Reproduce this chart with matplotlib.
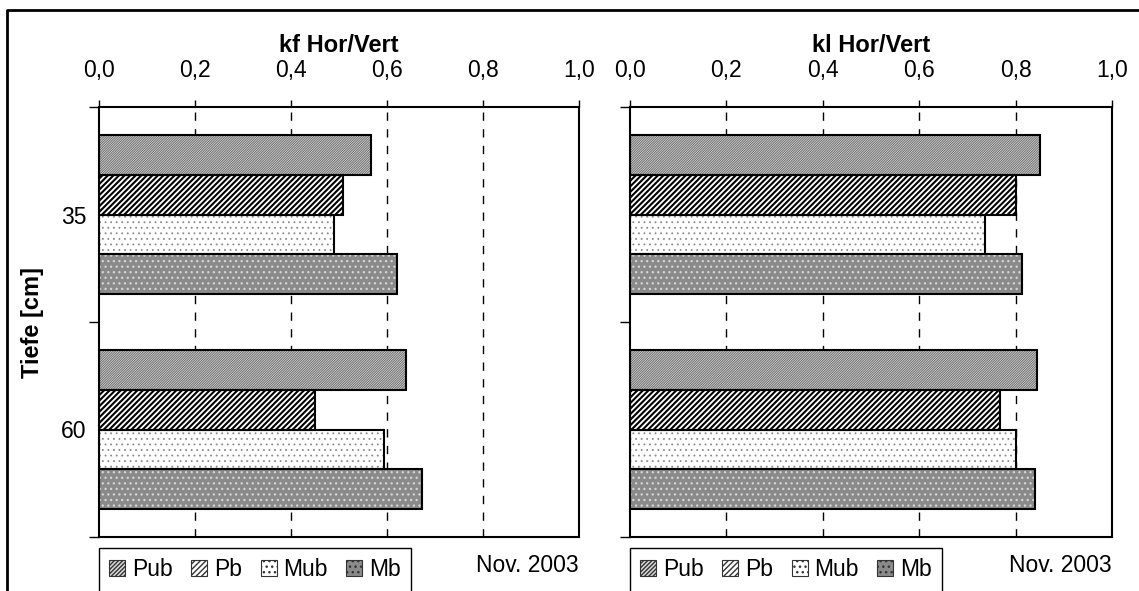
import numpy as np
import matplotlib
matplotlib.use("Agg")
import matplotlib.pyplot as plt
from matplotlib.patches import Patch
from matplotlib.lines import Line2D

plt.rcParams['font.family'] = ['Liberation Sans', 'DejaVu Sans']

depths = ["35", "60"]
series = ["Pub", "Pb", "Mub", "Mb"]
kf_ratio = {
    "Pub": [0.567, 0.640],
    "Pb": [0.508, 0.450],
    "Mub": [0.490, 0.594],
    "Mb": [0.621, 0.673],
}
kl_ratio = {
    "Pub": [0.850, 0.845],
    "Pb": [0.800, 0.768],
    "Mub": [0.737, 0.800],
    "Mb": [0.813, 0.840],
}
x_ticks = [0.0, 0.2, 0.4, 0.6, 0.8, 1.0]
x_ticklabels = ["0,0", "0,2", "0,4", "0,6", "0,8", "1,0"]
note = "Nov. 2003"

# fill, hatch, hatch colour, hatch line width
styles = {
    "Pub": ("#d9d9d9", "/" * 14, "#707070", 0.7),
    "Pb": ("white", "/" * 6, "black", 1.5),
    "Mub": ("white", "...", "#8a8a8a", 0.6),
    "Mb": ("#8a8a8a", "...", "#d6d6d6", 0.9),
}

W, H = 1139, 591
fig = plt.figure(figsize=(W / 100, H / 100), dpi=100)

bar_h = 0.185
offsets = (np.arange(4) - 1.5) * bar_h
ypos = np.arange(len(depths))
FS = 16.5


def draw_panel(ax, data, title, show_ylabels):
    for off, name in zip(offsets, series):
        fc, hatch, hc, hlw = styles[name]
        with plt.rc_context({'hatch.linewidth': hlw}):
            ax.barh(ypos + off, data[name], height=bar_h, color=fc,
                    hatch=hatch, edgecolor=hc, linewidth=0, zorder=2)
        ax.barh(ypos + off, data[name], height=bar_h, fill=False,
                edgecolor="black", linewidth=1.5, zorder=3)
    ax.set_xlim(0, 1)
    ax.set_ylim(1.5, -0.5)
    ax.xaxis.tick_top()
    ax.set_xticks(x_ticks)
    ax.set_xticklabels(x_ticklabels, fontsize=FS)
    ax.tick_params(axis='x', direction='out', length=5, width=1, pad=13)
    pos = ax.get_position()
    fig.text((pos.x0 + pos.x1) / 2, 1 - 45 / H, title, ha='center',
             va='center', fontsize=17, fontweight='bold')
    for x in x_ticks[1:-1]:
        ax.axvline(x, color="black", lw=1, ls=(0, (6, 6)), zorder=1)
    ax.set_yticks([-0.5, 0.5, 1.5])
    ax.set_yticklabels([])
    ax.tick_params(axis='y', direction='out', length=7, width=1)
    ax.set_yticks(ypos, minor=True)
    if show_ylabels:
        ax.set_yticklabels(depths, minor=True, fontsize=FS)
    ax.tick_params(axis='y', which='minor', length=0, pad=9)
    for s in ax.spines.values():
        s.set_linewidth(1.5)


ax1 = fig.add_axes([99 / W, 1 - 537 / H, 480 / W, 430 / H])
ax2 = fig.add_axes([630 / W, 1 - 537 / H, 482 / W, 430 / H])
draw_panel(ax1, kf_ratio, "kf Hor/Vert", True)
draw_panel(ax2, kl_ratio, "kl Hor/Vert", False)
ax1.set_ylabel("Tiefe [cm]", fontsize=17, fontweight='bold', labelpad=12)

handles = []
for name in series:
    fc, hatch, hc, hlw = styles[name]
    with plt.rc_context({'hatch.linewidth': 0.6}):
        handles.append(Patch(facecolor=fc, hatch=hatch[:8],
                             edgecolor="#333333", linewidth=0.8, label=name))

for ax, x0 in ((ax1, 99), (ax2, 630)):
    fig.legend(handles=handles, ncol=4, loc='upper left',
               bbox_to_anchor=(x0 / W, 1 - 548 / H), fontsize=FS,
               frameon=True, fancybox=False, edgecolor="black",
               framealpha=1, handlelength=0.7, handleheight=0.7,
               handletextpad=0.3, columnspacing=0.8, borderpad=0.45,
               borderaxespad=0)
    fig.text(ax.get_position().x1, 1 - 565 / H, note, ha='right',
             va='center', fontsize=FS)

# outer chart frame
fig.add_artist(Line2D([7 / W, 7 / W, 1.01], [-0.05, 1 - 10 / H, 1 - 10 / H],
                      transform=fig.transFigure, color="black", lw=2))

fig.savefig("out.png", dpi=100)
